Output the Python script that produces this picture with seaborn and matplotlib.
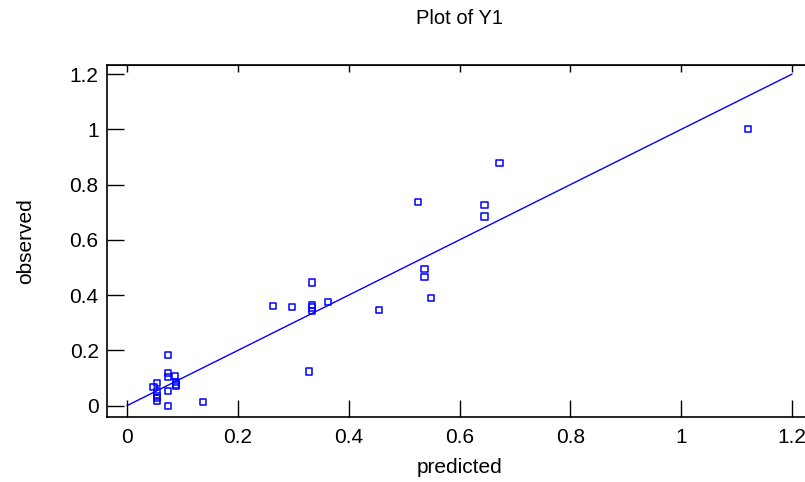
import matplotlib
matplotlib.use("Agg")
import matplotlib.pyplot as plt
import seaborn as sns
import pandas as pd

# Data (predicted vs observed)
predicted = [1.12, 0.672, 0.645, 0.645, 0.525, 0.537, 0.537, 0.549, 0.455,
             0.363, 0.3345, 0.3345, 0.3345, 0.3345, 0.298, 0.264, 0.328,
             0.0734, 0.0734, 0.0734, 0.086, 0.089, 0.089, 0.089, 0.0536,
             0.048, 0.0536, 0.0536, 0.0536, 0.0536, 0.0734, 0.0734, 0.137]
observed = [1.0, 0.877, 0.725, 0.685, 0.736, 0.495, 0.467, 0.391, 0.346,
            0.376, 0.446, 0.365, 0.355, 0.344, 0.356, 0.361, 0.124,
            0.1845, 0.119, 0.103, 0.107, 0.087, 0.077, 0.071, 0.083,
            0.069, 0.051, 0.035, 0.027, 0.017, 0.053, 0.0, 0.012]
line_x = [0.0, 1.2]
line_y = [0.0, 1.2]
ticks = [0, 0.2, 0.4, 0.6, 0.8, 1, 1.2]
tick_labels = ["0", "0.2", "0.4", "0.6", "0.8", "1", "1.2"]

sns.set_style("ticks")
plt.rcParams['font.family'] = ['Liberation Sans', 'DejaVu Sans']
plt.rcParams['text.color'] = 'black'
plt.rcParams['axes.labelcolor'] = 'black'
plt.rcParams['xtick.color'] = 'black'
plt.rcParams['ytick.color'] = 'black'

fig = plt.figure(figsize=(8.05, 4.82), dpi=100)
W, H = 805, 482
left_px, right_px, top_px, bottom_px = 107, 812, 65, 417
ax = fig.add_axes([left_px / W, 1 - bottom_px / H,
                   (right_px - left_px) / W, (bottom_px - top_px) / H])

df = pd.DataFrame({"predicted": predicted, "observed": observed})
lf = pd.DataFrame({"x": line_x, "y": line_y})

sns.lineplot(data=lf, x="x", y="y", ax=ax, color="#0000ff", linewidth=1.0)
sns.scatterplot(data=df, x="predicted", y="observed", ax=ax, marker="s",
                s=20, facecolors="none", edgecolor="#0000ff", linewidth=1.1,
                zorder=3)

ax.set_xlim(-0.036, 1.236)
ax.set_ylim(-0.041, 1.233)
ax.set_xticks(ticks)
ax.set_xticklabels(tick_labels)
ax.set_yticks(ticks)
ax.set_yticklabels(tick_labels)

for s in ax.spines.values():
    s.set_visible(True)
    s.set_linewidth(1.2)
    s.set_color("black")

ax.tick_params(axis="both", which="major", direction="in", length=12,
               width=1.0, colors="black", labelsize=15, pad=8,
               top=False, right=False)
ax.tick_params(axis="y", pad=6)

# short inward ticks on top and right
ax2 = ax.secondary_xaxis("top")
ax2.set_xticks(ticks)
ax2.tick_params(direction="in", length=5, width=1.0, labeltop=False,
                colors="black")
ax3 = ax.secondary_yaxis("right")
ax3.set_yticks(ticks)
ax3.tick_params(direction="in", length=5, width=1.0, labelright=False,
                colors="black")

ax.set_xlabel("predicted", fontsize=15, labelpad=8, color="black")
ax.set_ylabel("observed", fontsize=15, labelpad=25, color="black")
fig.text(459 / W, 1 - 18 / H, "Plot of Y1", ha="center", va="center",
         fontsize=14.5, color="black")

fig.savefig("out.png", dpi=100)
